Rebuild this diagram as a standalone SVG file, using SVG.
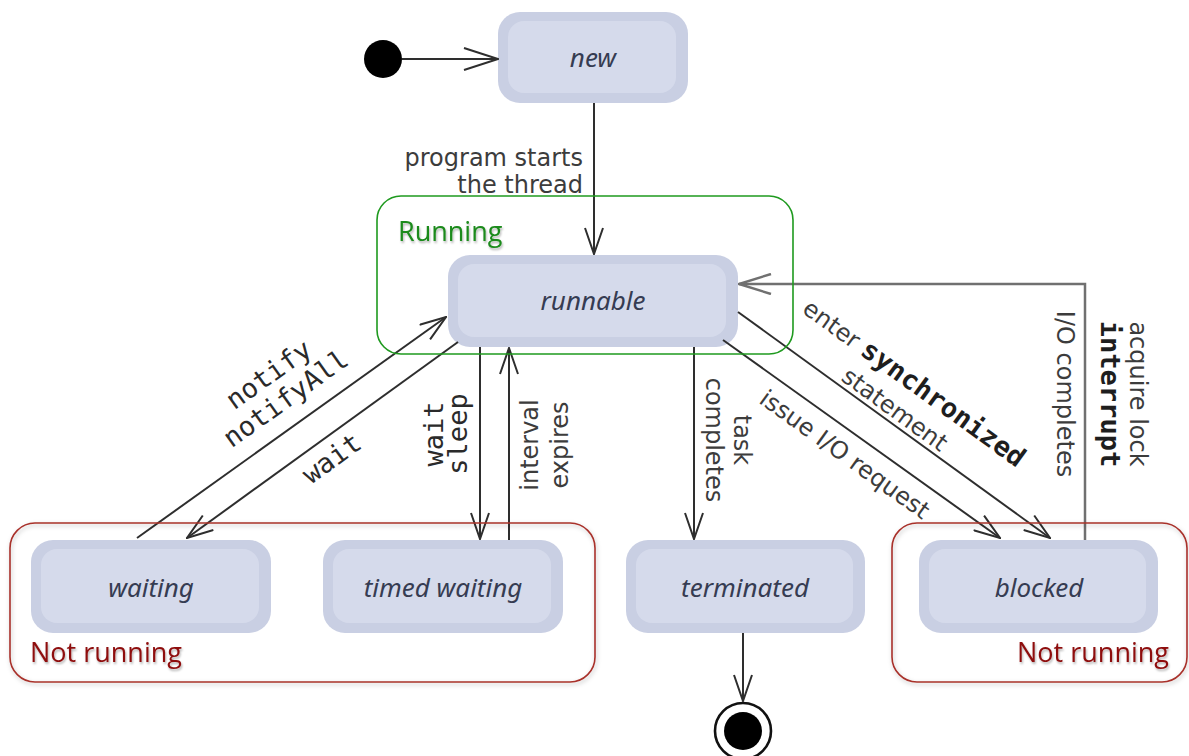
<svg xmlns="http://www.w3.org/2000/svg" width="1189" height="756" viewBox="0 0 1189 756">
<style>
.no{fill:#c9cfe3}
.ni{fill:#d5daeb}
.nl{font-family:"Noto Sans","Open Sans",sans-serif;font-style:italic;font-size:26px;fill:#363c52;text-anchor:middle}
.lb{font-family:"DejaVu Sans",sans-serif;font-size:24px;fill:#3c3c3c}
.mo{font-family:"DejaVu Sans Mono","Liberation Mono",monospace;font-size:27px;fill:#2a2a2a}
.mb{font-family:"DejaVu Sans Mono","Liberation Mono",monospace;font-size:27px;font-weight:bold;fill:#1e1e1e}
.c{fill:none;stroke:#2e2e2e;stroke-width:2}
.cg{fill:none;stroke:#707070;stroke-width:2.5}
.mid{text-anchor:middle}
.grp{font-family:"Open Sans","Noto Sans",sans-serif;font-size:27px}
</style>
<defs>
<marker id="arr" viewBox="0 0 28 20" refX="27" refY="10" markerWidth="28" markerHeight="20" markerUnits="userSpaceOnUse" orient="auto">
<path d="M1,1 L27,10 L1,19" fill="none" stroke="#2e2e2e" stroke-width="2"/>
</marker>
<marker id="arrL" viewBox="0 0 36 24" refX="35" refY="12" markerWidth="36" markerHeight="24" markerUnits="userSpaceOnUse" orient="auto">
<path d="M1,1 L35,12 L1,23" fill="none" stroke="#2e2e2e" stroke-width="2"/>
</marker>
<marker id="arrG" viewBox="0 0 34 22" refX="33" refY="11" markerWidth="34" markerHeight="22" markerUnits="userSpaceOnUse" orient="auto">
<path d="M1,1 L33,11 L1,21" fill="none" stroke="#707070" stroke-width="2.5"/>
</marker>
<filter id="sh" x="-5%" y="-5%" width="110%" height="115%">
<feDropShadow dx="1" dy="2" stdDeviation="2" flood-color="#000" flood-opacity="0.25"/>
</filter>
<filter id="ts" x="-5%" y="-20%" width="110%" height="150%">
<feDropShadow dx="1" dy="2" stdDeviation="1.2" flood-color="#000" flood-opacity="0.3"/>
</filter>
</defs>
<rect width="1189" height="756" fill="#ffffff"/>

<g id="initial"><circle cx="383" cy="59" r="19" fill="#000"/></g>

<g id="node-new">
<rect class="no" x="498" y="12" width="190" height="91" rx="22"/>
<rect class="ni" x="508" y="21" width="168" height="72" rx="16"/>
<text class="nl" x="593" y="67">new</text>
</g>
<g id="node-runnable">
<rect class="no" x="448" y="255" width="290" height="92" rx="22"/>
<rect class="ni" x="458" y="264" width="268" height="73" rx="16"/>
<text class="nl" x="593" y="310">runnable</text>
</g>
<g id="node-waiting">
<rect class="no" x="31" y="540" width="240" height="93" rx="22"/>
<rect class="ni" x="41" y="549" width="218" height="74" rx="16"/>
<text class="nl" x="151" y="597">waiting</text>
</g>
<g id="node-timed-waiting">
<rect class="no" x="323" y="540" width="240" height="93" rx="22"/>
<rect class="ni" x="333" y="549" width="218" height="74" rx="16"/>
<text class="nl" x="443" y="597">timed waiting</text>
</g>
<g id="node-terminated">
<rect class="no" x="626" y="540" width="239" height="93" rx="22"/>
<rect class="ni" x="636" y="549" width="217" height="74" rx="16"/>
<text class="nl" x="745" y="597">terminated</text>
</g>
<g id="node-blocked">
<rect class="no" x="919" y="540" width="239" height="93" rx="22"/>
<rect class="ni" x="929" y="549" width="217" height="74" rx="16"/>
<text class="nl" x="1039" y="597">blocked</text>
</g>
<g id="final">
<circle cx="743" cy="731" r="28" fill="#fff" stroke="#111" stroke-width="2.6"/>
<circle cx="743" cy="731" r="19" fill="#000"/>
</g>

<g id="connectors">
<line class="c" x1="402" y1="59" x2="498" y2="59" marker-end="url(#arrL)"/>
<line class="c" x1="594" y1="103" x2="594" y2="254" marker-end="url(#arr)"/>
<line class="c" x1="137" y1="538" x2="446" y2="317" marker-end="url(#arr)"/>
<line class="c" x1="458" y1="342" x2="187" y2="538" marker-end="url(#arr)"/>
<line class="c" x1="480" y1="347" x2="480" y2="539" marker-end="url(#arr)"/>
<line class="c" x1="509" y1="540" x2="509" y2="348" marker-end="url(#arr)"/>
<line class="c" x1="694" y1="347" x2="694" y2="539" marker-end="url(#arr)"/>
<line class="c" x1="723" y1="340" x2="1000" y2="538" marker-end="url(#arr)"/>
<line class="c" x1="738" y1="312" x2="1050" y2="538" marker-end="url(#arr)"/>
<polyline class="cg" points="1085,540 1085,284 739,284" marker-end="url(#arrG)"/>
<line class="c" x1="743" y1="633" x2="743" y2="701" marker-end="url(#arr)"/>

<text class="lb" text-anchor="end" x="583" y="166">program starts</text>
<text class="lb" text-anchor="end" x="583" y="193">the thread</text>

<text class="mo mid" transform="translate(274,382) rotate(-35.6)">notify</text>
<text class="mo mid" transform="translate(291,406) rotate(-35.6)">notifyAll</text>
<text class="mo mid" transform="translate(337,466) rotate(-35.9)">wait</text>

<text class="mo mid" transform="translate(443,434) rotate(-90)">wait</text>
<text class="mo mid" transform="translate(467,434) rotate(-90)">sleep</text>

<text class="lb mid" transform="translate(538,445) rotate(-90)">interval</text>
<text class="lb mid" transform="translate(568,445) rotate(-90)">expires</text>

<text class="lb mid" transform="translate(734,440) rotate(90)">task</text>
<text class="lb mid" transform="translate(706,440) rotate(90)">completes</text>

<text class="lb mid" transform="translate(909,390) rotate(35.9)">enter <tspan class="mb">synchronized</tspan></text>
<text class="lb mid" transform="translate(890,416) rotate(35.9)">statement</text>
<text class="lb mid" transform="translate(840,461) rotate(35.6)">issue I/O request</text>

<text class="lb mid" transform="translate(1057,394) rotate(90)">I/O completes</text>
<text class="mb mid" transform="translate(1101,394) rotate(90)">interrupt</text>
<text class="lb mid" transform="translate(1130,394) rotate(90)">acquire lock</text>
</g>

<g id="group-running">
<rect x="377" y="196" width="416" height="158" rx="24" fill="none" stroke="#1f9a1f" stroke-width="1.6"/>
<text class="grp" x="398" y="241" fill="#1a8a1a" filter="url(#ts)">Running</text>
</g>
<g id="group-not-running-left">
<rect x="10" y="523" width="585" height="159" rx="25" fill="none" stroke="#a8302a" stroke-width="1.6" filter="url(#sh)"/>
<text class="grp" x="30" y="662" fill="#8e0f0f" filter="url(#ts)">Not running</text>
</g>
<g id="group-not-running-right">
<rect x="892" y="523" width="295" height="159" rx="25" fill="none" stroke="#a8302a" stroke-width="1.6" filter="url(#sh)"/>
<text class="grp" x="1169" y="662" text-anchor="end" fill="#8e0f0f" filter="url(#ts)">Not running</text>
</g>
</svg>
